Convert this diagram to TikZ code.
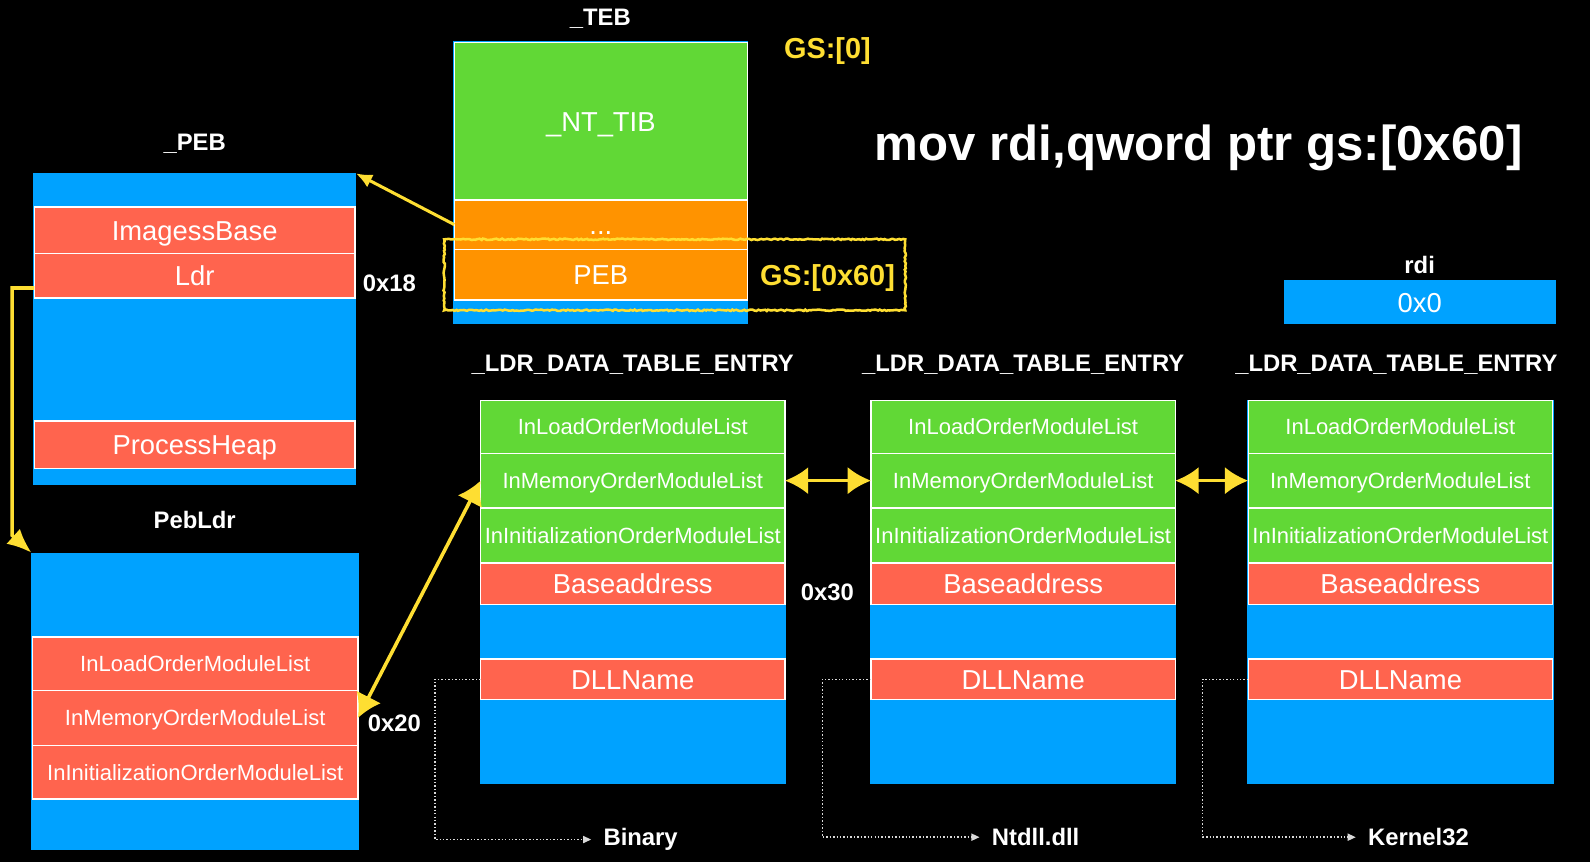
\documentclass[tikz,border=0pt]{standalone}
\usepackage{fontspec}
\setmainfont{Liberation Sans}
\usepackage{tikz}
\usetikzlibrary{arrows.meta, positioning, fit, decorations.pathmorphing}

\definecolor{kblue}{RGB}{0,162,255}
\definecolor{kgreen}{RGB}{97,216,54}
\definecolor{kred}{RGB}{255,100,78}
\definecolor{korange}{RGB}{255,147,0}
\definecolor{kyellow}{RGB}{254,222,50}

\newcommand{\cellfont}{\fontsize{21.7}{26}\selectfont}
\newcommand{\namefont}{\fontsize{27}{32}\selectfont}
\newcommand{\labelfont}{\fontsize{23.5}{28}\selectfont\bfseries}
\newcommand{\gsfont}{\fontsize{28.5}{34}\selectfont\bfseries}
\newcommand{\movfont}{\fontsize{48.5}{58}\selectfont\bfseries}

\tikzstyle{struct} = [rectangle, fill=kblue, inner sep=0pt, outer sep=0pt, anchor=north west, text=white, font=\namefont, text height=19.5pt, text depth=0pt]
\tikzstyle{field} = [rectangle, draw=white, line width=1.5pt, text=white, inner sep=0pt, outer sep=0pt, text depth=0pt]
\tikzstyle{redfield} = [field, fill=kred, font=\namefont, text height=19.5pt]
\tikzstyle{greenfield} = [field, fill=kgreen, font=\cellfont, text height=15.6pt]
\tikzstyle{listfield} = [field, fill=kred, font=\cellfont, text height=15.6pt]
\tikzstyle{orangefield} = [field, fill=korange, font=\namefont, text height=19.5pt]
\tikzstyle{entry} = [minimum width=300]
\tikzstyle{title} = [text=white, font=\labelfont, anchor=base, inner sep=0pt]
\tikzstyle{gslabel} = [title, text=kyellow, font=\gsfont]
\tikzstyle{highlight} = [draw=kyellow, line width=2.5pt, inner sep=10pt, decorate, decoration={random steps, segment length=2pt, amplitude=0.7pt}]
\tikzstyle{arrow} = [draw=kyellow, line width=3pt, -{Latex[length=16pt,width=14pt]}]
\tikzstyle{bigarrow} = [arrow, line width=3.5pt, -{Latex[length=24pt,width=20pt]}]
\tikzstyle{link} = [draw=kyellow, line width=3.5pt, {Latex[length=23pt,width=27pt]}-{Latex[length=23pt,width=27pt]}]
\tikzstyle{dllref} = [draw=white!85!black, line width=1.4pt, dotted, -{Triangle[length=8pt,width=7pt]}]

\begin{document}
\begin{tikzpicture}[x=1pt, y=-1pt]
    \useasboundingbox (0,0) rectangle (1568,850);
    \fill[black] (0,0) rectangle (1568,850);

    % _TEB
    \node[title] (tebname) at (592,25) {\_TEB};
    \node[struct, minimum width=291, minimum height=280] (teb) at (447,40) {};
    \node[greenfield, font=\namefont, text height=19.5pt, minimum width=289, minimum height=155, below=2pt of teb.north] (ntib) {\_NT\_TIB};
    \node[orangefield, minimum width=289, minimum height=49, below=0pt of ntib] (dots) {...};
    \node[orangefield, minimum width=289, minimum height=50, below=0pt of dots] (pebptr) {PEB};
    \node[gslabel] (gs0) at (816,58) {GS:[0]};
    \node[gslabel] (gs60) at (816,282) {GS:[0x60]};
    \node[highlight, fit=(pebptr) (gs60)] (hl) {};

    \node[title, font=\movfont] (mov) at (1182,158) {mov rdi,qword ptr gs:[0x60]};

    % rdi
    \node[title] (rdiname) at (1400,270) {rdi};
    \node[struct, minimum width=268, minimum height=44] (rdi) at (1266,276) {0x0};

    % _PEB
    \node[title] (pebname) at (192,148) {\_PEB};
    \node[struct, minimum width=318, minimum height=307] (peb) at (33,171) {};
    \node[redfield, minimum width=316, minimum height=46, below=33pt of peb.north] (imgbase) {ImagessBase};
    \node[redfield, minimum width=316, minimum height=44, below=0pt of imgbase] (ldr) {Ldr};
    \node[redfield, minimum width=316, minimum height=47, below=244pt of peb.north] (procheap) {ProcessHeap};
    \node[title] (off18) at (384,287) {0x18};

    % PebLdr
    \node[title] (pebldrname) at (192,521) {PebLdr};
    \node[struct, minimum width=323, minimum height=293] (pebldr) at (31,545) {};
    \node[listfield, minimum width=321, minimum height=53, below=83pt of pebldr.north] (ploadlist) {InLoadOrderModuleList};
    \node[listfield, minimum width=321, minimum height=54, below=0pt of ploadlist] (pmemlist) {InMemoryOrderModuleList};
    \node[listfield, minimum width=321, minimum height=53, below=0pt of pmemlist] (pinitlist) {InInitializationOrderModuleList};
    \node[title] (off20) at (389,721) {0x20};

    % _LDR_DATA_TABLE_ENTRY (Binary)
    \node[title] (entryname1) at (624,366) {\_LDR\_DATA\_TABLE\_ENTRY};
    \node[struct, minimum width=302, minimum height=379] (ldr1) at (473,394) {};
    \node[greenfield, entry, minimum height=52, below=1pt of ldr1.north] (load1) {InLoadOrderModuleList};
    \node[greenfield, entry, minimum height=54, below=0pt of load1] (mem1) {InMemoryOrderModuleList};
    \node[greenfield, entry, minimum height=54, below=0pt of mem1] (init1) {InInitializationOrderModuleList};
    \node[redfield, entry, minimum height=41, below=0pt of init1] (base1) {Baseaddress};
    \node[redfield, entry, minimum height=40, below=54pt of base1] (dll1) {DLLName};
    \node[title, anchor=base west] (binary) at (595,834) {Binary};

    \node[title] (off30) at (816,592) {0x30};

    % _LDR_DATA_TABLE_ENTRY (Ntdll.dll)
    \node[title] (entryname2) at (1009,366) {\_LDR\_DATA\_TABLE\_ENTRY};
    \node[struct, minimum width=302, minimum height=379] (ldr2) at (858,394) {};
    \node[greenfield, entry, minimum height=52, below=1pt of ldr2.north] (load2) {InLoadOrderModuleList};
    \node[greenfield, entry, minimum height=54, below=0pt of load2] (mem2) {InMemoryOrderModuleList};
    \node[greenfield, entry, minimum height=54, below=0pt of mem2] (init2) {InInitializationOrderModuleList};
    \node[redfield, entry, minimum height=41, below=0pt of init2] (base2) {Baseaddress};
    \node[redfield, entry, minimum height=40, below=54pt of base2] (dll2) {DLLName};
    \node[title, anchor=base west] (ntdll) at (978,834) {Ntdll.dll};

    % _LDR_DATA_TABLE_ENTRY (Kernel32)
    \node[title] (entryname3) at (1377,366) {\_LDR\_DATA\_TABLE\_ENTRY};
    \node[struct, minimum width=302, minimum height=379] (ldr3) at (1230,394) {};
    \node[greenfield, entry, minimum height=52, below=1pt of ldr3.north] (load3) {InLoadOrderModuleList};
    \node[greenfield, entry, minimum height=54, below=0pt of load3] (mem3) {InMemoryOrderModuleList};
    \node[greenfield, entry, minimum height=54, below=0pt of mem3] (init3) {InInitializationOrderModuleList};
    \node[redfield, entry, minimum height=41, below=0pt of init3] (base3) {Baseaddress};
    \node[redfield, entry, minimum height=40, below=54pt of base3] (dll3) {DLLName};
    \node[title, anchor=base west] (kernel) at (1349,834) {Kernel32};

    % pointers
    \draw[arrow] (dots.west) -- (peb.north east);
    \draw[bigarrow] ([yshift=-12pt]ldr.west) -- ++(-22,0) -- ++(0,244) -- (pebldr.north west);
    \draw[link] (pmemlist.east) -- (mem1.west);
    \draw[link] (mem1.east) -- (mem2.west);
    \draw[link] (mem2.east) -- (mem3.west);

    % module names
    \draw[dllref] (dll1.west) -- ++(-45,0) |- ([xshift=-12pt]binary.west);
    \draw[dllref] (dll2.west) -- ++(-48,0) |- ([xshift=-12pt]ntdll.west);
    \draw[dllref] (dll3.west) -- ++(-45,0) |- ([xshift=-12pt]kernel.west);
\end{tikzpicture}
\end{document}
